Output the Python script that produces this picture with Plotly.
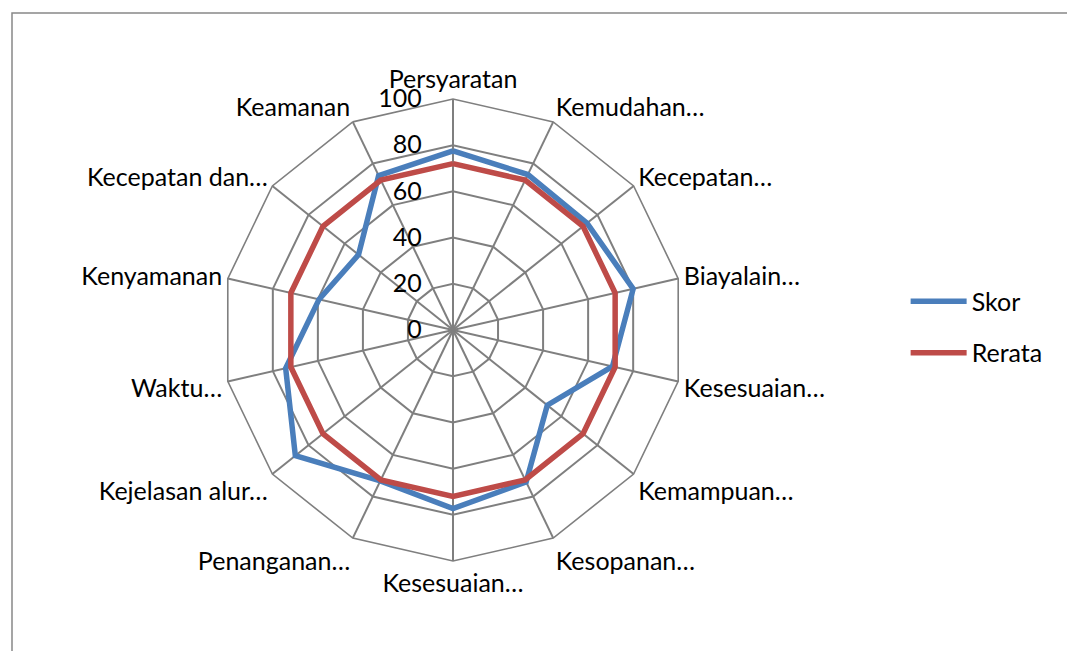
import plotly.graph_objects as go

categories = ["Persyaratan", "Kemudahan…", "Kecepatan…", "Biayalain…", "Kesesuaian…",
              "Kemampuan…", "Kesopanan…", "Kesesuaian…", "Penanganan…", "Kejelasan alur…",
              "Waktu…", "Kenyamanan", "Kecepatan dan…", "Keamanan"]
skor = [77.5, 74.7, 74.2, 80.0, 70.8, 52.2, 73.0, 77.3, 72.5, 87.3, 74.3, 59.5, 52.3, 74.2]
rerata = [72.0] * len(categories)
radial_ticks = [0, 20, 40, 60, 80, 100]

n = len(categories)
idx = list(range(n))
idx_closed = idx + [idx[0]]

BLUE = "#4A7EBB"
RED = "#BE4B48"
GRID = "#7F7F7F"
FONT = "Lato"
FS = 25

fig = go.Figure()
fig.add_trace(go.Scatterpolar(r=skor + [skor[0]], theta=idx_closed, mode="lines",
                              name="Skor", line=dict(color=BLUE, width=5.5),
                              legendgroup="a"))
fig.add_trace(go.Scatterpolar(r=rerata + [rerata[0]], theta=idx_closed, mode="lines",
                              name="Rerata", line=dict(color=RED, width=5.5),
                              legendgroup="b"))

cx, cy, R = 445, 322, 231
W, H = 1075, 651
fig.update_layout(
    width=W, height=H,
    margin=dict(l=0, r=0, t=0, b=0),
    paper_bgcolor="white",
    font=dict(family=FONT, size=FS, color="black"),
    polar=dict(
        domain=dict(x=[(cx - R) / W, (cx + R) / W],
                    y=[(H - cy - R) / H, (H - cy + R) / H]),
        bgcolor="white",
        gridshape="linear",
        radialaxis=dict(range=[0, 100], tickvals=radial_ticks, angle=90,
                        side="counterclockwise", tickangle=90,
                        showline=False, ticks="outside", ticklen=22,
                        tickcolor="rgba(0,0,0,0)",
                        gridcolor=GRID, gridwidth=1.6,
                        tickfont=dict(family=FONT, size=FS, color="black")),
        angularaxis=dict(type="category", categoryarray=idx,
                         rotation=90, direction="clockwise", tickmode="array",
                         tickvals=idx, ticktext=categories, ticks="",
                         showline=True, linecolor=GRID, linewidth=1.6,
                         gridcolor=GRID, gridwidth=1.6,
                         tickfont=dict(family=FONT, size=FS, color="black")),
    ),
    legend=dict(x=0.835, y=0.51, xanchor="left", yanchor="middle", itemwidth=56,
                tracegroupgap=16, font=dict(family=FONT, size=FS, color="black")),
    shapes=[dict(type="rect", xref="paper", yref="paper",
                 x0=4 / W, x1=1.02, y0=-0.02, y1=1 - 5 / H,
                 line=dict(color="#888888", width=1.5))],
)

fig.write_html("out.html")
